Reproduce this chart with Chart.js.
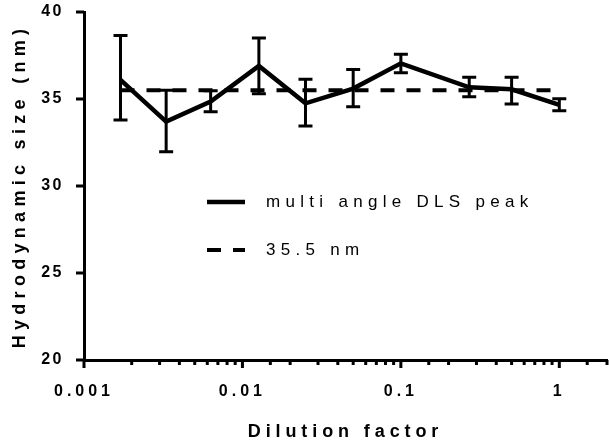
<!DOCTYPE html>
<html>
<head>
<meta charset="utf-8">
<script src="https://cdn.jsdelivr.net/npm/chart.js@4/dist/chart.umd.min.js"></script>
<style>
  body { margin: 0; background: #fff; }
</style>
</head>
<body>
<canvas id="sizeChart" width="609" height="443"></canvas>
<script>
// values
const dilution = [0.0017, 0.0033, 0.0063, 0.0127, 0.025, 0.05, 0.1, 0.27, 0.5, 1];
const meanSize = [36.1, 33.7, 34.85, 36.9, 34.75, 35.6, 37.05, 35.67, 35.56, 34.66];
const sizeHigh = [38.65, 35.5, 35.48, 38.5, 36.13, 36.7, 37.57, 36.25, 36.25, 35.02];
const sizeLow = [33.8, 31.97, 34.27, 35.3, 33.45, 34.56, 36.51, 35.13, 34.71, 34.33];
const refRange = [0.0017, 1];
const refSize = [35.5, 35.5];
const seriesNames = ['multi angle DLS peak', '35.5 nm'];
const xTickLabels = ['0.001', '0.01', '0.1', '1'];
const yTickValues = [20, 25, 30, 35, 40];

const FONT = '"Liberation Sans", Arial, sans-serif';
Chart.defaults.font.family = FONT;
Chart.defaults.color = '#000';

const isDecade = (v) => Math.abs(Math.log10(v) - Math.round(Math.log10(v))) < 1e-6;

// no auto padding from tick labels, the plot box is fixed
const noPad = (s) => {
    s.paddingLeft = s.paddingRight = s.paddingTop = s.paddingBottom = 0;
};

// canvas letter spacing for scale texts
const spacedText = {
    id: 'spacedText',
    afterLayout(chart) {
        const conf = { x: ['4px', '4.9px'], y: ['2.5px', '5.3px'] };
        for (const id of ['x', 'y']) {
            const s = chart.scales[id];
            if (s._spaced) continue;
            const labels = s.drawLabels.bind(s);
            const title = s.drawTitle.bind(s);
            s.drawLabels = (a) => {
                chart.ctx.save(); chart.ctx.letterSpacing = conf[id][0]; labels(a); chart.ctx.restore();
            };
            s.drawTitle = (a) => {
                chart.ctx.save(); chart.ctx.letterSpacing = conf[id][1]; title(a); chart.ctx.restore();
            };
            s._spaced = true;
        }
    }
};

const tickMarks = {
    id: 'tickMarks',
    afterDraw(chart) {
        const { ctx, chartArea, scales: { x, y } } = chart;
        ctx.save();
        ctx.strokeStyle = '#000';
        ctx.lineWidth = 3;
        ctx.beginPath();
        for (const t of x.ticks) {
            const px = x.getPixelForValue(t.value);
            ctx.moveTo(px, chartArea.bottom);
            ctx.lineTo(px, chartArea.bottom + (isDecade(t.value) ? 8 : 5));
        }
        for (const t of y.ticks) {
            const py = y.getPixelForValue(t.value);
            ctx.moveTo(chartArea.left, py);
            ctx.lineTo(chartArea.left - 8, py);
        }
        ctx.stroke();
        ctx.restore();
    }
};

const errorBars = {
    id: 'errorBars',
    afterDatasetsDraw(chart) {
        const { ctx, scales: { x, y } } = chart;
        ctx.save();
        ctx.strokeStyle = '#000';
        ctx.lineWidth = 3;
        ctx.beginPath();
        dilution.forEach((d, i) => {
            const px = x.getPixelForValue(d);
            const top = y.getPixelForValue(sizeHigh[i]);
            const bot = y.getPixelForValue(sizeLow[i]);
            ctx.moveTo(px, top); ctx.lineTo(px, bot);
            ctx.moveTo(px - 7, top); ctx.lineTo(px + 7, top);
            ctx.moveTo(px - 7, bot); ctx.lineTo(px + 7, bot);
        });
        ctx.stroke();
        ctx.restore();
    }
};

const insideLegend = {
    id: 'insideLegend',
    afterDraw(chart) {
        const { ctx, chartArea } = chart;
        ctx.save();
        chart.data.datasets.forEach((ds, i) => {
            const yy = chartArea.top + 190 + i * 48;
            const x0 = chartArea.left + 123;
            ctx.strokeStyle = '#000';
            ctx.lineWidth = ds.borderWidth;
            ctx.setLineDash(ds.borderDash || []);
            ctx.beginPath();
            ctx.moveTo(x0, yy);
            ctx.lineTo(x0 + 38, yy);
            ctx.stroke();
            ctx.setLineDash([]);
            ctx.fillStyle = '#000';
            ctx.font = '17px ' + FONT;
            ctx.letterSpacing = '5.3px';
            ctx.textBaseline = 'middle';
            ctx.fillText(ds.label, x0 + 59, yy);
        });
        ctx.restore();
    }
};

const ctx = document.getElementById('sizeChart').getContext('2d');
new Chart(ctx, {
    type: 'line',
    data: {
        datasets: [{
            label: seriesNames[0],
            data: dilution.map((d, i) => ({ x: d, y: meanSize[i] })),
            borderColor: '#000',
            borderWidth: 4.5,
            borderJoinStyle: 'miter',
            pointRadius: 0,
            tension: 0
        }, {
            label: seriesNames[1],
            data: refRange.map((d, i) => ({ x: d, y: refSize[i] })),
            borderColor: '#000',
            borderWidth: 4,
            borderDash: [14, 12],
            pointRadius: 0
        }]
    },
    options: {
        responsive: false,
        animation: false,
        devicePixelRatio: 1,
        layout: { padding: { top: 12, right: 2, left: 0, bottom: 0 } },
        plugins: { legend: { display: false }, tooltip: { enabled: false } },
        scales: {
            x: {
                type: 'logarithmic',
                min: 0.001,
                max: 2,
                afterFit: (s) => { s.height = 83; noPad(s); },
                grid: { drawOnChartArea: false, drawTicks: false },
                border: { color: '#000', width: 3 },
                ticks: {
                    autoSkip: false,
                    maxRotation: 0,
                    padding: 22,
                    font: { size: 16, weight: 'bold' },
                    callback: (v) => xTickLabels.find((l) => Math.abs(Number(l) - v) < v * 1e-6) || ''
                },
                title: {
                    display: true,
                    text: 'Dilution factor',
                    font: { size: 18, weight: 'bold' },
                    padding: { top: 0, bottom: 0 }
                }
            },
            y: {
                min: 20,
                max: 40,
                afterFit: (s) => { s.width = 84; noPad(s); },
                grid: { drawOnChartArea: false, drawTicks: false },
                border: { color: '#000', width: 3 },
                ticks: {
                    stepSize: 5,
                    padding: 20,
                    font: { size: 16, weight: 'bold' },
                    callback: (v) => yTickValues.includes(v) ? String(v) : ''
                },
                title: {
                    display: true,
                    text: 'Hydrodynamic size (nm)',
                    font: { size: 18, weight: 'bold' },
                    padding: { top: 9, bottom: 0 }
                }
            }
        }
    },
    plugins: [spacedText, tickMarks, errorBars, insideLegend]
});
</script>
</body>
</html>
